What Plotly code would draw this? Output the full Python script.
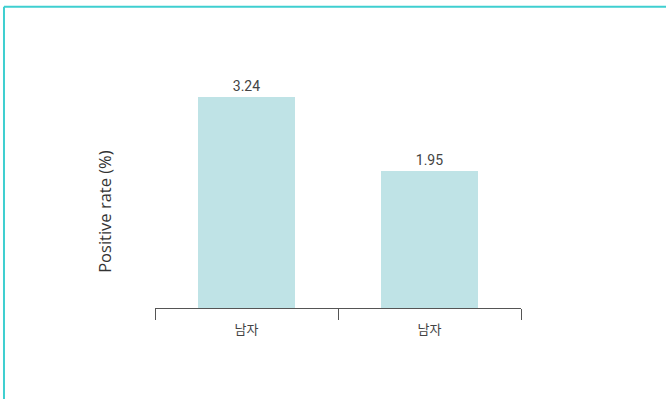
import plotly.graph_objects as go

# Chart data
categories = ["남자", "남자"]
values = [3.24, 1.95]
y_title = "Positive rate (%)"

# Value axis floor (bars start at the bottom of the plotting area)
Y_FLOOR = -0.44
Y_TOP = 4.40

x_pos = list(range(len(categories)))
bar_color = "#bfe3e6"
frame_color = "#3fcfd0"

fig = go.Figure()
fig.add_trace(go.Bar(
    x=x_pos,
    y=[v - Y_FLOOR for v in values],
    base=Y_FLOOR,
    width=0.53,
    marker=dict(color=bar_color, line=dict(width=0)),
    text=[f"{v:.2f}" for v in values],
    textposition="outside",
    textfont=dict(family="Roboto, 'Noto Sans CJK KR'", size=14, color="#444444"),
    cliponaxis=False,
    hoverinfo="skip",
))

fig.update_layout(
    width=666,
    height=399,
    margin=dict(l=155, r=145, t=30, b=91),
    paper_bgcolor="white",
    plot_bgcolor="white",
    showlegend=False,
    bargap=0,
    xaxis=dict(
        range=[-0.5, len(categories) - 0.5],
        tickmode="array",
        tickvals=x_pos,
        ticktext=categories,
        ticks="",
        ticklabelstandoff=9,
        showline=True,
        linecolor="#555555",
        linewidth=1,
        showgrid=False,
        zeroline=False,
        tickfont=dict(family="'Noto Sans CJK KR', Roboto", size=13, color="#444444"),
        minor=dict(
            tickmode="array",
            tickvals=[i - 0.5 for i in range(len(categories) + 1)],
            ticks="outside",
            ticklen=11,
            tickwidth=1,
            tickcolor="#555555",
            showgrid=False,
        ),
    ),
    yaxis=dict(
        range=[Y_FLOOR, Y_TOP],
        showline=False,
        showgrid=False,
        zeroline=False,
        showticklabels=False,
        ticks="",
    ),
    annotations=[dict(
        text=y_title,
        xref="paper", yref="paper",
        x=-0.137, y=0.349,
        xanchor="center", yanchor="middle",
        textangle=-90,
        showarrow=False,
        font=dict(family="'Open Sans', 'Noto Sans'", size=16.5, color="#333333"),
    )],
    shapes=[
        # frame edges (top and left)
        dict(type="line", xref="paper", yref="paper",
             x0=-0.4126, x1=1.5, y0=1.084, y1=1.084,
             line=dict(color=frame_color, width=2)),
        dict(type="line", xref="paper", yref="paper",
             x0=-0.4126, x1=-0.4126, y0=1.084, y1=-0.5,
             line=dict(color=frame_color, width=2)),
    ],
)

fig.write_html("out.html")
